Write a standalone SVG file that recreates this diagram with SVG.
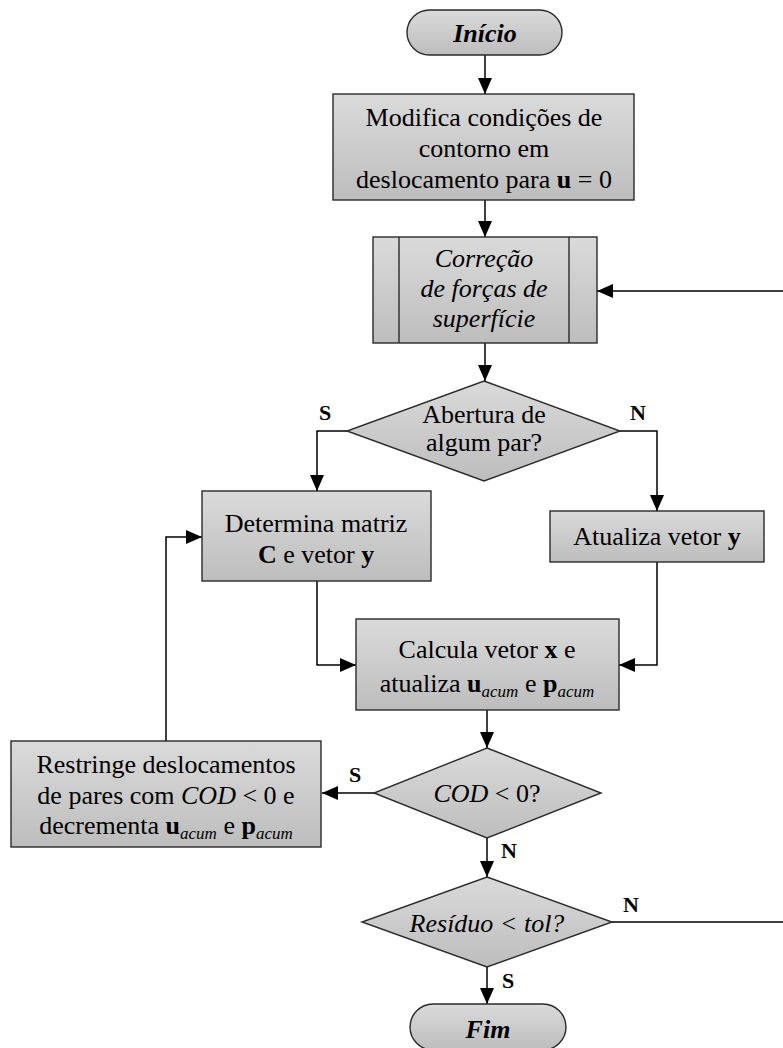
<svg xmlns="http://www.w3.org/2000/svg" width="783" height="1048" viewBox="0 0 783 1048">
  <defs>
    <linearGradient id="fillGrad" x1="0" y1="0" x2="0" y2="1">
      <stop offset="0" stop-color="#dadada"/>
      <stop offset="1" stop-color="#bdbdbd"/>
    </linearGradient>
    <marker id="arrow" markerUnits="userSpaceOnUse" markerWidth="17" markerHeight="15" refX="16" refY="7" orient="auto">
      <path d="M0,0 L16,7 L0,14 Z" fill="#000"/>
    </marker>
    <style>
      .shape { fill: url(#fillGrad); stroke: #2a2a2a; stroke-width: 1.4; }
      .inner { fill: none; stroke: #2a2a2a; stroke-width: 1.4; }
      .conn { fill: none; stroke: #000; stroke-width: 1.5; marker-end: url(#arrow); }
      .plain { fill: none; stroke: #000; stroke-width: 1.5; }
      text { font-family: "Liberation Serif", "Times New Roman", serif; font-size: 26px; fill: #000; text-anchor: middle; }
      .it { font-style: italic; }
      .b { font-weight: bold; }
      .lbl { font-weight: bold; font-size: 22px; }
      .sub { font-style: italic; font-size: 17px; }
    </style>
  </defs>

  <!-- connectors -->
  <g id="connectors">
    <path class="conn" d="M485,55 V94"/>
    <path class="conn" d="M485,200 V237"/>
    <path class="conn" d="M485,343 V381"/>
    <path class="conn" d="M347,431 H317 V491"/>
    <path class="conn" d="M620,431 H657 V511"/>
    <path class="conn" d="M317,581 V665 H356"/>
    <path class="conn" d="M657,562 V665 H619"/>
    <path class="conn" d="M487,710 V748"/>
    <path class="conn" d="M374,793 H322"/>
    <path class="conn" d="M166,741 V537 H202"/>
    <path class="conn" d="M487,838 V877"/>
    <path class="conn" d="M487,967 V1004"/>
    <path class="conn" d="M612,922 H785 V291 H597"/>
    <text class="lbl" x="325" y="420">S</text>
    <text class="lbl" x="638" y="420">N</text>
    <text class="lbl" x="355" y="782">S</text>
    <text class="lbl" x="509" y="858">N</text>
    <text class="lbl" x="631" y="912">N</text>
    <text class="lbl" x="508" y="988">S</text>
  </g>

  <g id="inicio">
    <rect class="shape" x="407" y="10" width="155" height="45" rx="22.5" ry="22.5"/>
    <text class="it b" x="485" y="42">Início</text>
  </g>

  <g id="modifica">
    <rect class="shape" x="333" y="94" width="301" height="106"/>
    <text x="484" y="126">Modifica condições de</text>
    <text x="484" y="157">contorno em</text>
    <text x="484" y="188">deslocamento para <tspan class="b">u</tspan> = 0</text>
  </g>

  <g id="correcao">
    <rect class="shape" x="373" y="237" width="224" height="106"/>
    <line class="inner" x1="399" y1="237" x2="399" y2="343"/>
    <line class="inner" x1="569" y1="237" x2="569" y2="343"/>
    <text class="it" x="484" y="267">Correção</text>
    <text class="it" x="484" y="297">de forças de</text>
    <text class="it" x="484" y="327">superfície</text>
  </g>

  <g id="abertura">
    <polygon class="shape" points="484,381 620,431 484,481 347,431"/>
    <text x="484" y="423">Abertura de</text>
    <text x="484" y="451">algum par?</text>
  </g>

  <g id="determina">
    <rect class="shape" x="202" y="491" width="229" height="90"/>
    <text x="316" y="532">Determina matriz</text>
    <text x="316" y="563"><tspan class="b">C</tspan> e vetor <tspan class="b">y</tspan></text>
  </g>

  <g id="atualiza">
    <rect class="shape" x="550" y="511" width="214" height="51"/>
    <text x="657" y="545">Atualiza vetor <tspan class="b">y</tspan></text>
  </g>

  <g id="calcula">
    <rect class="shape" x="356" y="619" width="263" height="91"/>
    <text x="487" y="658">Calcula vetor <tspan class="b">x</tspan> e</text>
    <text x="487" y="692">atualiza <tspan class="b">u</tspan><tspan class="sub" dy="5">acum</tspan><tspan dy="-5"> e </tspan><tspan class="b">p</tspan><tspan class="sub" dy="5">acum</tspan></text>
  </g>

  <g id="cod">
    <polygon class="shape" points="487,748 601,793 487,838 374,793"/>
    <text x="487" y="802"><tspan class="it">COD</tspan> &lt; 0?</text>
  </g>

  <g id="restringe">
    <rect class="shape" x="11" y="741" width="310" height="106"/>
    <text x="166" y="773">Restringe deslocamentos</text>
    <text x="166" y="804">de pares com <tspan class="it">COD</tspan> &lt; 0 e</text>
    <text x="166" y="834">decrementa <tspan class="b">u</tspan><tspan class="sub" dy="5">acum</tspan><tspan dy="-5"> e </tspan><tspan class="b">p</tspan><tspan class="sub" dy="5">acum</tspan></text>
  </g>

  <g id="residuo">
    <polygon class="shape" points="487,877 612,922 487,967 362,922"/>
    <text class="it" x="487" y="932">Resíduo &lt; tol?</text>
  </g>

  <g id="fim">
    <rect class="shape" x="410" y="1004" width="156" height="46" rx="23" ry="23"/>
    <text class="it b" x="488" y="1038">Fim</text>
  </g>
</svg>
